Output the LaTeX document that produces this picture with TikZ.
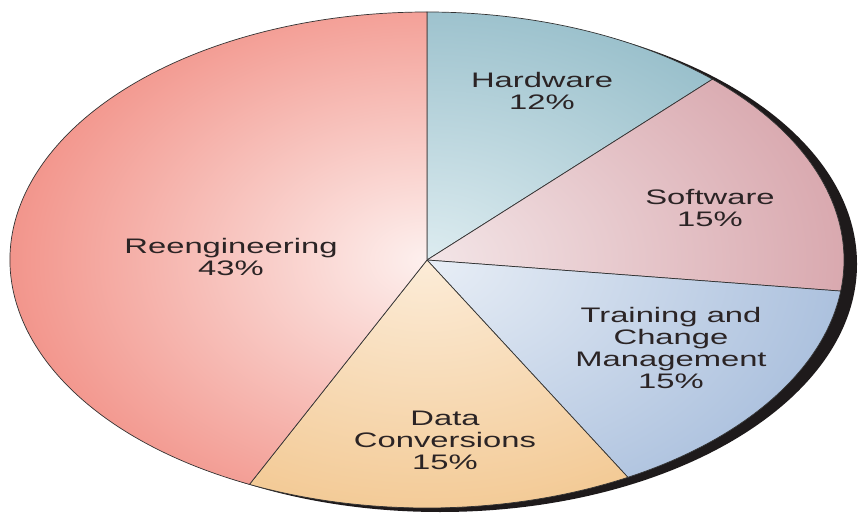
\documentclass[tikz,border=0pt]{standalone}
\usepackage{fontspec}
\setmainfont{Liberation Sans}
\usetikzlibrary{positioning}

\definecolor{reOut}{HTML}{F08378}
\definecolor{reIn}{HTML}{FDF0EE}
\definecolor{hwOut}{HTML}{86B3C1}
\definecolor{hwIn}{HTML}{DDECF0}
\definecolor{swOut}{HTML}{D49DA4}
\definecolor{swIn}{HTML}{F3E5E7}
\definecolor{tcOut}{HTML}{A0B8D9}
\definecolor{tcIn}{HTML}{E8EEF6}
\definecolor{dcOut}{HTML}{F0BF80}
\definecolor{dcIn}{HTML}{FCECD8}
\definecolor{rimcol}{HTML}{1E1A1B}
\definecolor{txtcol}{HTML}{2B2425}

\begin{document}
\begin{tikzpicture}[x=1pt,y=1pt,
    slice/.style={draw=black!80, line width=0.7pt},
    lbl/.style={font=\fontsize{21}{22}\selectfont, align=center, text=txtcol, xscale=1.56}]
  \useasboundingbox (0,0) rectangle (858,514);
  \coordinate (c) at (427,254);
  % dark rim behind the pie
  \fill[rimcol] ([shift={(13,-4)}]c) ellipse [x radius=417, y radius=248];
  % slices: start/end/colour
  \foreach \a/\b/\col in {90/46.8/hw, 46.8/-7.2/sw, -7.2/-61.2/tc, -61.2/-115.2/dc, -115.2/-270/re}
    \draw[slice, path picture={\shade[inner color=\col In, outer color=\col Out] (c) ellipse [x radius=500, y radius=340];}]
      (c) -- ++(\a:417 and 248) arc [start angle=\a, end angle=\b, x radius=417, y radius=248] -- cycle;
  \node[lbl] (hw) at (542,423) {Hardware\\12\%};
  \node[lbl] (sw) at (710,306) {Software\\15\%};
  \node[lbl] (tc) at (671,166) {Training and\\Change\\Management\\15\%};
  \node[lbl] (dc) at (445,74) {Data\\Conversions\\15\%};
  \node[lbl] (re) at (231,257) {Reengineering\\43\%};
\end{tikzpicture}
\end{document}
